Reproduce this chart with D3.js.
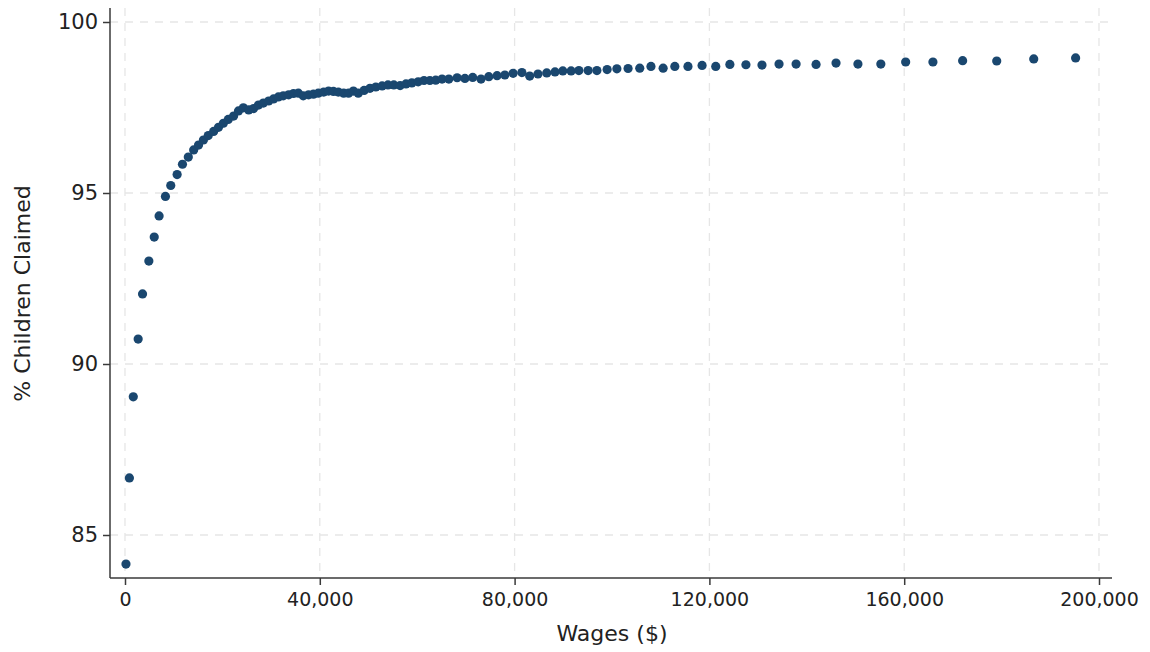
<!DOCTYPE html>
<html>
<head>
<meta charset="utf-8">
<script src="https://cdn.jsdelivr.net/npm/d3@7"></script>
<style>
  html, body { margin: 0; padding: 0; background: #fff; }
  svg { display: block; font-family: "DejaVu Sans", sans-serif; }
</style>
</head>
<body>
<svg id="chart" width="1150" height="652"></svg>
<script>
// Wages ($) bins
const wages = [
  200, 900, 1700, 2700, 3600, 4900, 6000, 7000, 8300, 9400,
  10700, 11800, 13000, 14100, 15100, 16100, 17100, 18200, 19200, 20200,
  21200, 22300, 23300, 24300, 25400, 26400, 27400, 28400, 29500, 30500,
  31500, 32500, 33600, 34600, 35600, 36600, 37700, 38700, 39700, 40800,
  41800, 42800, 43800, 44900, 45900, 46900, 47900, 49100, 50300, 51500,
  52800, 54000, 55200, 56500, 57700, 58900, 60200, 61400, 62600, 63800,
  65100, 66500, 68200, 69800, 71400, 73100, 74700, 76400, 78000, 79700,
  81500, 83100, 84800, 86600, 88300, 89900, 91600, 93200, 95100, 96900,
  99000, 101000, 103300, 105700, 108000, 110500, 112900, 115600, 118500, 121300,
  124200, 127500, 130800, 134300, 137800, 141900, 146000, 150500, 155200, 160300,
  165900, 172000, 179000, 186600, 195200
];
// % Children Claimed
const claimed = [
  84.15, 86.67, 89.04, 90.73, 92.05, 93.01, 93.71, 94.33, 94.90, 95.22,
  95.54, 95.84, 96.05, 96.26, 96.40, 96.55, 96.68, 96.80, 96.92, 97.04,
  97.15, 97.25, 97.40, 97.49, 97.43, 97.47, 97.57, 97.63, 97.69, 97.75,
  97.81, 97.84, 97.87, 97.91, 97.92, 97.84, 97.87, 97.89, 97.92, 97.95,
  97.98, 97.97, 97.95, 97.92, 97.92, 97.98, 97.92, 98.00, 98.06, 98.10,
  98.13, 98.16, 98.16, 98.14, 98.19, 98.22, 98.25, 98.29, 98.29, 98.30,
  98.33, 98.33, 98.37, 98.35, 98.38, 98.33, 98.40, 98.43, 98.45, 98.50,
  98.52, 98.42, 98.48, 98.51, 98.54, 98.57, 98.57, 98.58, 98.58, 98.58,
  98.61, 98.63, 98.64, 98.65, 98.70, 98.65, 98.70, 98.70, 98.73, 98.70,
  98.76, 98.75, 98.74, 98.77, 98.77, 98.76, 98.80, 98.77, 98.77, 98.83,
  98.83, 98.87, 98.86, 98.92, 98.95
];
const xTicks = [0, 40000, 80000, 120000, 160000, 200000];
const yTicks = [85, 90, 95, 100];
const xTitle = "Wages ($)";
const yTitle = "% Children Claimed";

const svg = d3.select("#chart");
const x = d3.scaleLinear().domain([0, 200000]).range([125, 1099]);
const y = d3.scaleLinear().domain([85, 100]).range([535, 22]);

const axisLeft = 110, axisRight = 1112, axisBottom = 578, axisTop = 8;
const gridColor = "#e6e6e6";
const axisColor = "#3a3a3a";
const textColor = "#222";

// gridlines
svg.append("g").selectAll("line.hg").data(yTicks).join("line")
  .attr("x1", axisLeft).attr("x2", axisRight)
  .attr("y1", d => y(d)).attr("y2", d => y(d))
  .attr("stroke", gridColor).attr("stroke-width", 1.3).attr("stroke-dasharray", "8,7");
svg.append("g").selectAll("line.vg").data(xTicks).join("line")
  .attr("x1", d => x(d)).attr("x2", d => x(d))
  .attr("y1", axisTop).attr("y2", axisBottom)
  .attr("stroke", gridColor).attr("stroke-width", 1.3).attr("stroke-dasharray", "8,7");

// axes
const xAxis = d3.axisBottom(x).tickValues(xTicks).tickFormat(d3.format(",")).tickSize(7).tickSizeOuter(0);
const gx = svg.append("g").attr("transform", `translate(0,${axisBottom})`).call(xAxis);
gx.select(".domain").remove();
gx.append("line").attr("x1", axisLeft).attr("x2", axisRight).attr("y1", 0).attr("y2", 0)
  .attr("stroke", axisColor).attr("stroke-width", 1.5);
gx.selectAll(".tick line").attr("stroke", axisColor).attr("stroke-width", 1.5);
gx.selectAll(".tick text").attr("fill", textColor).attr("font-size", 19)
  .attr("font-family", "DejaVu Sans").attr("dy", "0.95em");

const yAxis = d3.axisLeft(y).tickValues(yTicks).tickSize(7).tickSizeOuter(0);
const gy = svg.append("g").attr("transform", `translate(${axisLeft},0)`).call(yAxis);
gy.select(".domain").remove();
gy.append("line").attr("x1", 0).attr("x2", 0).attr("y1", axisTop).attr("y2", axisBottom)
  .attr("stroke", axisColor).attr("stroke-width", 1.5);
gy.selectAll(".tick line").attr("stroke", axisColor).attr("stroke-width", 1.5);
gy.selectAll(".tick text").attr("fill", textColor).attr("font-size", 21)
  .attr("font-family", "DejaVu Sans").attr("x", -12);

// titles
svg.append("text").attr("x", (x(0) + x(200000)) / 2).attr("y", 641)
  .attr("text-anchor", "middle").attr("font-size", 22).attr("fill", textColor).text(xTitle);
svg.append("text").attr("transform", `translate(30,${(y(85) + y(100)) / 2 + 15}) rotate(-90)`)
  .attr("text-anchor", "middle").attr("font-size", 22).attr("fill", textColor).text(yTitle);

// points
const pts = wages.map((w, i) => ({ w, c: claimed[i] }));
svg.append("g").selectAll("circle").data(pts).join("circle")
  .attr("cx", d => x(d.w)).attr("cy", d => y(d.c)).attr("r", 4.6)
  .attr("fill", "#1a476f");
</script>
</body>
</html>
